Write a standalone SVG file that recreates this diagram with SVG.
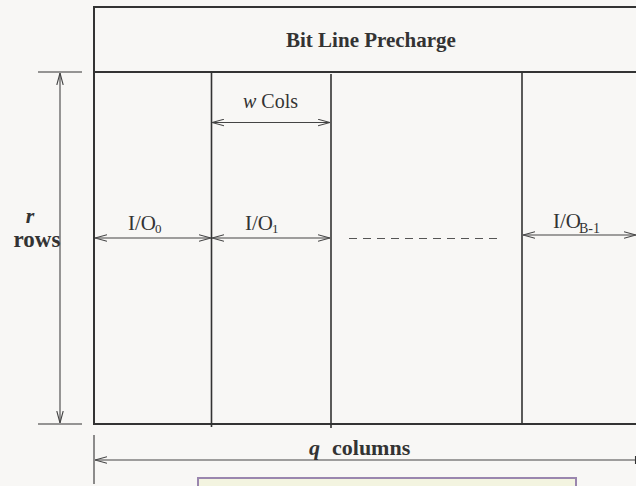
<svg xmlns="http://www.w3.org/2000/svg" width="636" height="486" viewBox="0 0 636 486">
  <style>
    .frame { fill: none; stroke: #333; stroke-width: 2; }
    .div { stroke: #333; stroke-width: 1.6; }
    .dim { stroke: #444; stroke-width: 1.1; fill: none; }
    .tick { stroke: #333; stroke-width: 1.1; }
    .lbl { font-family: "Liberation Serif", "Times New Roman", serif; fill: #333; }
    .b { font-weight: bold; }
    .i { font-style: italic; }
  </style>
  <defs>
    <marker id="open" viewBox="0 0 12 8" refX="12" refY="4" markerWidth="12" markerHeight="8" markerUnits="userSpaceOnUse" orient="auto-start-reverse">
      <path d="M0,0.8 L12,4 L0,7.2" fill="none" stroke="#444" stroke-width="1.1"/>
    </marker>
  </defs>

  <rect width="636" height="486" fill="#f8f7f5"/>

  <!-- precharge block -->
  <g id="precharge">
    <path class="frame" d="M637,7 H94 V72 H637"/>
    <text class="lbl b" x="371" y="47" font-size="21" text-anchor="middle">Bit Line Precharge</text>
  </g>

  <!-- memory array with column groups -->
  <g id="array">
    <path class="frame" d="M94,72 V424 H637"/>
    <line class="div" x1="211.5" y1="73" x2="211.5" y2="427"/>
    <line class="div" x1="331" y1="74" x2="331" y2="428"/>
    <line class="div" x1="522" y1="72" x2="522" y2="424"/>
  </g>

  <!-- dimension lines -->
  <g id="connectors">
    <line class="tick" x1="38" y1="72" x2="82" y2="72"/>
    <line class="tick" x1="38" y1="424" x2="82" y2="424"/>
    <line class="dim" x1="60" y1="73" x2="60" y2="423" marker-start="url(#open)" marker-end="url(#open)"/>

    <line class="dim" x1="212" y1="122.5" x2="330" y2="122.5" marker-start="url(#open)" marker-end="url(#open)"/>

    <line class="dim" x1="95" y1="238" x2="211" y2="238" marker-start="url(#open)" marker-end="url(#open)"/>
    <line class="dim" x1="212" y1="238" x2="330" y2="238" marker-start="url(#open)" marker-end="url(#open)"/>
    <line x1="349" y1="238.5" x2="498" y2="238.5" stroke="#555" stroke-width="1.1" stroke-dasharray="8,6"/>
    <line class="dim" x1="523" y1="235" x2="636" y2="235" marker-start="url(#open)" marker-end="url(#open)"/>

    <line class="tick" x1="94" y1="435" x2="94" y2="484"/>
    <line class="dim" x1="95" y1="460" x2="636" y2="460" marker-start="url(#open)"/>
    <line class="tick" x1="635.5" y1="456" x2="635.5" y2="464"/>
  </g>

  <!-- labels -->
  <g id="labels">
    <text class="lbl b i" x="30" y="223" font-size="22" text-anchor="middle">r</text>
    <text class="lbl b" x="37" y="247" font-size="23" text-anchor="middle">rows</text>

    <text class="lbl" x="243" y="108" font-size="20"><tspan class="i">w</tspan> Cols</text>

    <text class="lbl" x="128" y="230" font-size="21">I/O<tspan font-size="13" dx="-1" dy="3">0</tspan></text>
    <text class="lbl" x="245" y="230" font-size="21">I/O<tspan font-size="13" dx="-1" dy="3">1</tspan></text>
    <text class="lbl" x="553" y="228" font-size="21">I/O<tspan font-size="14" dx="-2" dy="5">B-1</tspan></text>

    <text class="lbl b" x="309" y="455" font-size="22"><tspan class="i">q</tspan><tspan dx="12">columns</tspan></text>
  </g>

  <!-- legend panel -->
  <g id="legend">
    <rect x="198" y="478" width="378" height="20" fill="#f3f4e0" stroke="#9a86ae" stroke-width="2"/>
  </g>
</svg>
